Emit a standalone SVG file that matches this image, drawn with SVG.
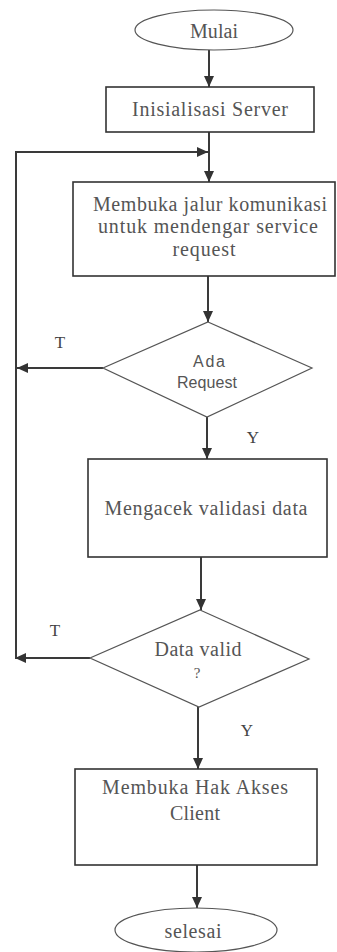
<svg xmlns="http://www.w3.org/2000/svg" width="337" height="952" viewBox="0 0 337 952">
<defs>
<style>
.shape{fill:#fff;stroke:#333;stroke-width:1.6}
.dia{fill:#fff;stroke:#555;stroke-width:1.2}
.line{fill:none;stroke:#3a3a3a;stroke-width:2}
.t{font-family:"Liberation Serif","Times New Roman",serif;font-size:20px;fill:#555;text-anchor:middle}
.s{font-family:"Liberation Sans",Arial,sans-serif;font-size:16px;fill:#555;text-anchor:middle}
.lab{font-family:"Liberation Serif","Times New Roman",serif;font-size:17px;fill:#444;text-anchor:middle}
</style>
<marker id="arr" markerUnits="userSpaceOnUse" markerWidth="12" markerHeight="10" refX="11" refY="5" orient="auto">
<path d="M0,0 L11,5 L0,10 z" fill="#333"/>
</marker>
</defs>
<rect width="337" height="952" fill="#fff"/>
<g id="connectors">
<path class="line" d="M209,50 V87" marker-end="url(#arr)"/>
<path class="line" d="M209,132 V182" marker-end="url(#arr)"/>
<path class="line" d="M90,658 H15" marker-end="url(#arr)"/>
<path class="line" d="M16,658 V152 H208" marker-end="url(#arr)"/>
<path class="line" d="M103,368 H17" marker-end="url(#arr)"/>
<path class="line" d="M208,276 V322" marker-end="url(#arr)"/>
<path class="line" d="M207,417 V459" marker-end="url(#arr)"/>
<path class="line" d="M201,557 V610" marker-end="url(#arr)"/>
<path class="line" d="M198,707 V769" marker-end="url(#arr)"/>
<path class="line" d="M197,865 V908" marker-end="url(#arr)"/>
<text class="lab" x="60" y="348">T</text>
<text class="lab" x="253" y="443">Y</text>
<text class="lab" x="55" y="636">T</text>
<text class="lab" x="247" y="736">Y</text>
</g>
<g id="start">
<ellipse class="dia" cx="214" cy="30" rx="79" ry="20"/>
<text class="t" x="214" y="38" textLength="48" lengthAdjust="spacing">Mulai</text>
</g>
<g id="init">
<rect class="shape" x="106" y="87" width="208" height="45"/>
<text class="t" x="210" y="116" textLength="156" lengthAdjust="spacing">Inisialisasi Server</text>
</g>
<g id="listen">
<rect class="shape" x="73" y="182" width="262" height="94"/>
<text class="t" x="210" y="211" textLength="234" lengthAdjust="spacing">Membuka jalur komunikasi</text>
<text class="t" x="208" y="233" textLength="220" lengthAdjust="spacing">untuk mendengar service</text>
<text class="t" x="204" y="256" textLength="63" lengthAdjust="spacing">request</text>
</g>
<g id="ada-request">
<polygon class="dia" points="208,322 312,368 207,417 103,368"/>
<text class="s" x="209" y="367" textLength="32" lengthAdjust="spacing">Ada</text>
<text class="s" x="207" y="388" textLength="60" lengthAdjust="spacing">Request</text>
</g>
<g id="validate">
<rect class="shape" x="88" y="459" width="239" height="98"/>
<text class="t" x="206" y="515" textLength="203" lengthAdjust="spacing">Mengacek validasi data</text>
</g>
<g id="data-valid">
<polygon class="dia" points="200,610 309,659 199,707 90,658"/>
<text class="t" x="198" y="656" textLength="87" lengthAdjust="spacing">Data valid</text>
<text class="t" x="197" y="678" style="font-size:15px">?</text>
</g>
<g id="grant">
<rect class="shape" x="75" y="769" width="242" height="96"/>
<text class="t" x="195" y="794" textLength="186" lengthAdjust="spacing">Membuka Hak Akses</text>
<text class="t" x="195" y="820" textLength="50" lengthAdjust="spacing">Client</text>
</g>
<g id="end">
<ellipse class="dia" cx="196" cy="930" rx="81" ry="22"/>
<text class="t" x="193" y="938" textLength="57" lengthAdjust="spacing">selesai</text>
</g>
</svg>
